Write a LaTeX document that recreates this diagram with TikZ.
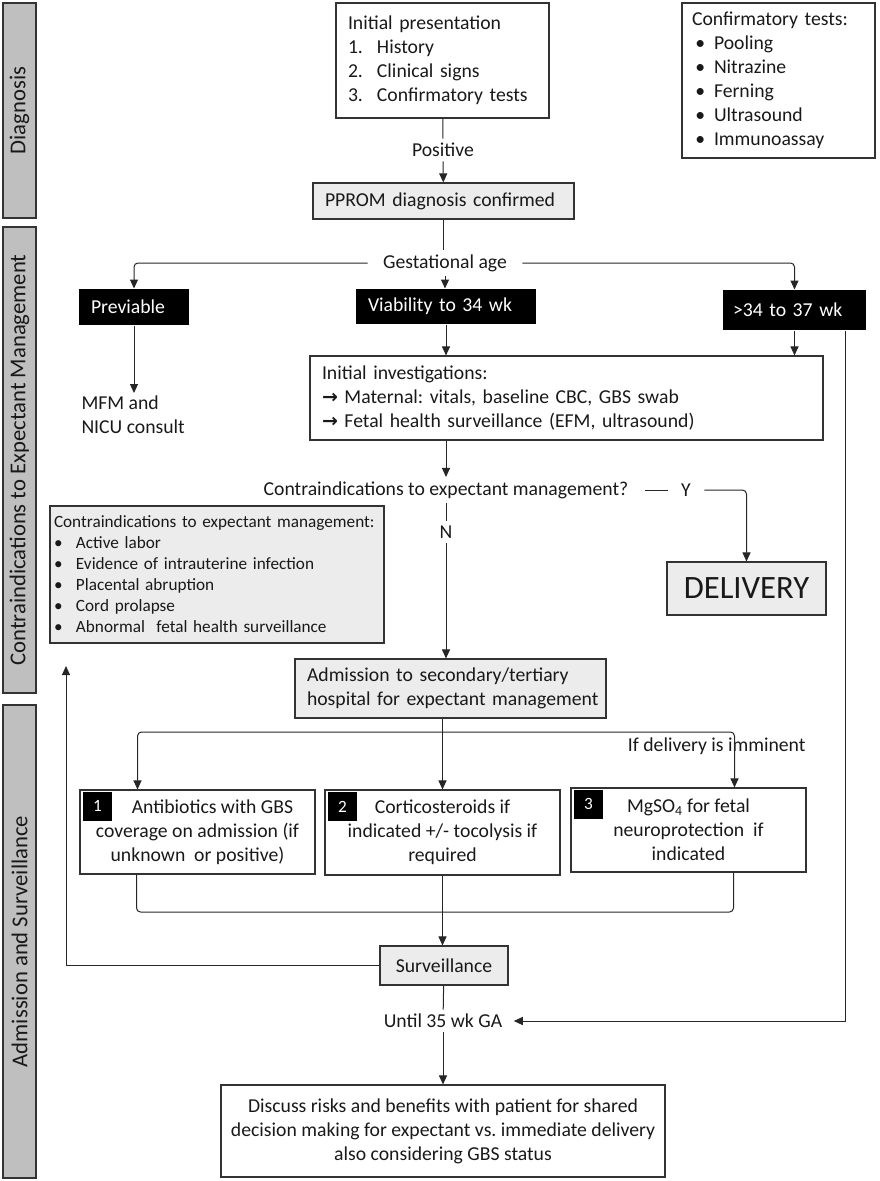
\documentclass[tikz,border=0pt]{standalone}
\usepackage{fontspec}
\setmainfont{Carlito}
\newfontfamily\arrowfont{DejaVu Sans}
\usetikzlibrary{arrows.meta}
\frenchspacing
\newcommand{\fmain}{\fontsize{19.7}{24}\selectfont}
\newcommand{\fsmall}{\fontsize{17.2}{21}\selectfont}
\newcommand{\fbar}{\fontsize{22.7}{27}\selectfont}
\newcommand{\fbig}{\fontsize{32.6}{38}\selectfont}
\newcommand{\rarr}{{\arrowfont\bfseries\fontsize{19}{24}\selectfont →}}

\begin{document}
\begin{tikzpicture}[x=1pt, y=-1pt, >={Triangle[length=9pt,width=8pt]}, line width=1pt, draw=black!85,
	every node/.style={font=\fmain, text=black!90},
	box/.style={draw=black!80, line width=1.1pt, align=center},
	gbox/.style={box, fill=gray!15},
	blk/.style={fill=black, text=white, align=left, inner xsep=12pt},
	bar/.style={draw=black!80, line width=1.1pt, fill=gray!50, rotate=90, minimum height=33pt, font=\fbar},
	num/.style={fill=black, text=white, minimum size=29pt, inner sep=0pt, font=\fsmall},
	lbl/.style={inner sep=4pt}]
	\useasboundingbox (0,0) rectangle (879,1181);
	% phase bars on the left
	\foreach \y/\h/\t [count=\i] in {110.5/215/Diagnosis, 460/466/Contraindications to Expectant Management, 941.5/473/Admission and Surveillance}
		{\node[bar, minimum width=\h pt] (s\i) at (19.5,\y) {\t};}
	% diagnosis
	\node[box, align=left, text width=189pt, inner xsep=12pt, minimum height=115pt] (init) at (442.5,60.5) {Initial presentation\\\makebox[29pt][l]{1.}History\\\makebox[29pt][l]{2.}Clinical signs\\\makebox[29pt][l]{3.}Confirmatory tests};
	\node[box, align=left, text width=173pt, inner xsep=10pt, minimum height=155pt] (conf) at (778.5,80.5) {Confirmatory tests:\\\makebox[22pt][l]{\,•}Pooling\\\makebox[22pt][l]{\,•}Nitrazine\\\makebox[22pt][l]{\,•}Ferning\\\makebox[22pt][l]{\,•}Ultrasound\\\makebox[22pt][l]{\,•}Immunoassay};
	\node[lbl] (pos) at (443,150) {Positive};
	\node[gbox, align=left, text width=237pt, inner xsep=12pt, minimum height=36pt] (pprom) at (443.5,201) {PPROM diagnosis confirmed};
	% gestational age
	\node[lbl, inner xsep=15pt] (ga) at (445,263) {Gestational age};
	\node[blk, text width=86pt, minimum height=36pt] (prev) at (134,307) {Previable};
	\node[blk, text width=156pt, minimum height=35pt] (via) at (446,306.5) {Viability to 34 wk};
	\node[blk, text width=123pt, inner xsep=10pt, minimum height=40pt] (late) at (794.5,310) {>34 to 37 wk};
	\node[lbl, anchor=north west, align=left, inner sep=2pt] (mfm) at (79,393) {MFM and\\NICU consult};
	\node[box, align=left, text width=489pt, inner xsep=12pt, minimum height=84pt] (inv) at (566.5,398) {Initial investigations:\\\rarr{} Maternal: vitals, baseline CBC, GBS swab\\\rarr{} Fetal health surveillance (EFM, ultrasound)};
	% contraindications
	\node[lbl, inner xsep=16pt] (q) at (446,490) {Contraindications to expectant management?};
	\node[lbl, inner xsep=13pt] (yes) at (686,490) {Y};
	\node[lbl] (no) at (446,532) {N};
	\node[gbox, font=\fsmall, align=left, text width=326pt, inner xsep=4pt, minimum height=137pt] (cbox) at (217,574.5) {Contraindications to expectant management:\\\makebox[22pt][l]{•}Active labor\\\makebox[22pt][l]{•}Evidence of intrauterine infection\\\makebox[22pt][l]{•}Placental abruption\\\makebox[22pt][l]{•}Cord prolapse\\\makebox[22pt][l]{•}Abnormal\ \ fetal health surveillance};
	\node[gbox, font=\fbig, minimum width=159pt, minimum height=53pt] (deliv) at (746.5,588.5) {DELIVERY};
	% admission and surveillance
	\node[gbox, align=left, text width=299pt, inner xsep=6pt, minimum height=59pt] (adm) at (450.5,688.5) {\hspace*{6pt}Admission to secondary/tertiary\\\hspace*{6pt}hospital for expectant management};
	\node[lbl, anchor=east] (imm) at (810,746) {If delivery is imminent};
	\node[box, minimum width=235pt, minimum height=84pt] (b1) at (197.5,832) {\hspace*{30pt}Antibiotics with GBS\\coverage on admission (if\\unknown\ \ or positive)};
	\node[box, minimum width=235pt, minimum height=85pt] (b2) at (442.5,832.5) {Corticosteroids if\\indicated +/- tocolysis if\\required};
	\node[box, minimum width=235pt, minimum height=84pt] (b3) at (688.5,830) {MgSO\textsubscript{4} for fetal\\neuroprotection\ \ if\\indicated};
	\foreach \i in {1,2,3} {\node[num, anchor=north west] (n\i) at ([xshift=3pt, yshift=-2pt]b\i.north west) {\i};}
	\node[gbox, minimum width=128pt, minimum height=39pt] (surv) at (444,965.5) {Surveillance};
	\node[lbl, inner xsep=11pt] (until) at (443,1021) {Until 35 wk GA};
	\node[box, inner xsep=4pt, minimum width=444pt, minimum height=92pt] (disc) at (443,1131) {Discuss risks and benefits with patient for shared\\decision making for expectant vs. immediate delivery\\also considering GBS status};
	% free ends of the connectors
	\coordinate (split) at (443,732);
	\coordinate (join) at (443,912);
	\coordinate (back) at (66,666);
	\coordinate (in1) at ([xshift=-60pt]b1.north);
	\coordinate (in3) at ([xshift=46pt]b3.north);
	\coordinate (out1) at ([xshift=-61pt]b1.south);
	\coordinate (out3) at ([xshift=45pt]b3.south);
	\coordinate (lateout) at ([xshift=50.5pt]late.south);
	% connectors
	\draw (init) -- (pos);
	\draw[->] (pos) -- (pprom);
	\draw (pprom.south) -- (pprom.south |- ga.north);
	\draw[->, rounded corners=4pt] (ga) -| (prev);
	\draw[->, rounded corners=4pt] (ga) -| (late);
	\draw[->] (ga.south) -- (ga.south |- via.north);
	\draw[->] (prev) -- (prev.south |- mfm.north);
	\draw[->] (via) -- (via |- inv.north);
	\draw[->] (late) -- (late |- inv.north);
	\draw[->] (via |- inv.south) -- (q);
	\draw (q) -- (yes);
	\draw[->, rounded corners=4pt] (yes) -| (deliv);
	\draw (q) -- (no);
	\draw[->] (no) -- (no |- adm.north);
	\draw[->, rounded corners=4pt] (split) -| (in1);
	\draw[->, rounded corners=4pt] (split) -| (in3);
	\draw[->] (adm.south -| b2.north) -- (b2.north);
	\draw[rounded corners=4pt] (out1) |- (join) -| (out3);
	\draw[->] (b2.south) -- (b2.south |- surv.north);
	\draw[->] (surv) -| (back);
	\draw (surv) -- (until);
	\draw[->] (until) -- (disc);
	\draw[->] (lateout) |- (until);
\end{tikzpicture}
\end{document}
